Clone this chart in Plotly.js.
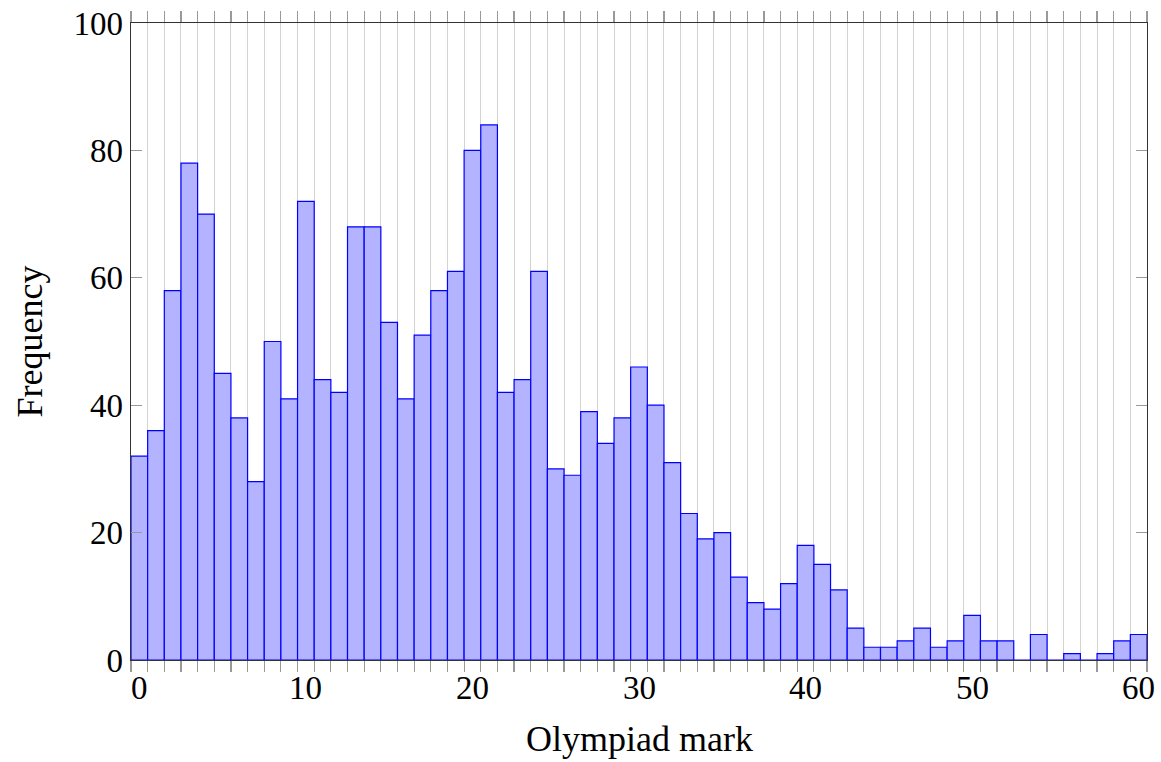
<!DOCTYPE html>
<html>
<head>
<meta charset="utf-8">
<script src="https://cdn.plot.ly/plotly-3.0.1.min.js"></script>
<style>html,body{margin:0;padding:0;background:#fff;}#chart{width:1161px;height:762px;}</style>
</head>
<body>
<div id="chart"></div>
<script>
const marks = [0,1,2,3,4,5,6,7,8,9,10,11,12,13,14,15,16,17,18,19,20,21,22,23,24,25,26,27,28,29,30,31,32,33,34,35,36,37,38,39,40,41,42,43,44,45,46,47,48,49,50,51,52,53,54,55,56,57,58,59,60];
const frequency = [32,36,58,78,70,45,38,28,50,41,72,44,42,68,68,53,41,51,58,61,80,84,42,44,61,30,29,39,34,38,46,40,31,23,19,20,13,9,8,12,18,15,11,5,2,2,3,5,2,3,7,3,3,0,4,0,1,0,1,3,4];
const xTickVals = [0,10,20,30,40,50,60];
const xTickText = ["0","10","20","30","40","50","60"];
const yTickVals = [0,20,40,60,80,100];
const xTitle = "Olympiad mark";
const yTitle = "Frequency";

const font = "Liberation Serif, Times New Roman, serif";
const trace = {
  type: "bar",
  x: marks,
  y: frequency,
  width: 1,
  marker: {color: "rgb(179,179,255)", line: {color: "#0000ff", width: 1.2}},
  hoverinfo: "x+y"
};
const annotations = xTickVals.map((v, i) => ({
  x: v, xref: "x", y: 0, yref: "paper",
  text: xTickText[i], showarrow: false,
  xanchor: "center", yanchor: "top", yshift: -8,
  font: {family: font, size: 33, color: "#000"}
}));
annotations.push({
  x: 0.5, xref: "paper", y: 0, yref: "paper",
  text: xTitle, showarrow: false,
  xanchor: "center", yanchor: "bottom", yshift: -100,
  borderpad: 0,
  font: {family: font, size: 36, color: "#000"}
});
const layout = {
  width: 1161, height: 762,
  margin: {l: 131, r: 14, t: 23, b: 102},
  paper_bgcolor: "#fff", plot_bgcolor: "#fff",
  showlegend: false,
  bargap: 0,
  font: {family: font, color: "#000", size: 32},
  annotations: annotations,
  xaxis: {
    range: [-0.5, 60.5],
    tickmode: "linear", tick0: -0.5, dtick: 1,
    ticks: "outside", ticklen: 11, tickcolor: "#999999", tickwidth: 1.2,
    showticklabels: false,
    showgrid: true, gridcolor: "#d3d3d3", gridwidth: 1,
    zeroline: false,
    showline: true, linecolor: "#333", linewidth: 1.3, mirror: "ticks"
  },
  yaxis: {
    range: [0, 100],
    tickmode: "array", tickvals: yTickVals,
    ticks: "inside", ticklen: 11, tickcolor: "#999", tickwidth: 1,
    showgrid: false, zeroline: false,
    showline: true, linecolor: "#333", linewidth: 1.3, mirror: "allticks",
    tickfont: {family: font, size: 33, color: "#000"},
    title: {text: yTitle, font: {family: font, size: 36, color: "#000"}, standoff: 20}
  }
};
Plotly.newPlot("chart", [trace], layout, {displayModeBar: false, staticPlot: true});
</script>
</body>
</html>
